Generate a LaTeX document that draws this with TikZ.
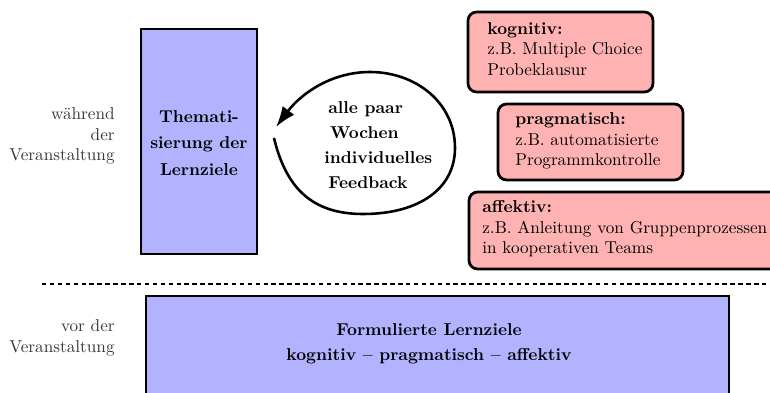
\documentclass[tikz,border=0pt]{standalone}
\usetikzlibrary{arrows.meta,fit}

\tikzset{
  goalbox/.style={draw=black, line width=1.7pt, fill=blue!30, inner sep=0pt},
  formbox/.style={draw=black, line width=1.6pt, fill=red!30, rounded corners=5pt, inner sep=0pt},
  phase/.style={inner sep=0pt, align=right, text=black!78},
  plain/.style={inner sep=0pt, align=left, anchor=west},
  boldtext/.style={inner sep=0pt, font=\bfseries},
  loopline/.style={line width=1.5pt, -{Latex[length=12pt,width=8.5pt]}},
  separator/.style={line width=0.6pt, dash pattern=on 2.6pt off 2pt}
}

\begin{document}
\begin{tikzpicture}[x=0.5814pt, y=-0.5814pt]
  \useasboundingbox (0,0) rectangle (770,392);

  % phase labels on the left
  \node[phase, anchor=east] (during) at (115,136) {während\\der\\Veranstaltung};
  \node[phase, anchor=east] (before) at (115,338) {vor der\\Veranstaltung};

  % topic box during the course
  \node[goalbox, fit={(141,29) (257,254)}] (topic) {};
  \node[boldtext, align=center] (topictext) at (199,143)
    {Themati-\\[3.4pt]sierung der\\[3.4pt]Lernziele};

  % feedback loop
  \coordinate (loopA) at (274,138);
  \coordinate (loopB) at (276,127);
  \draw[loopline] (loopA) .. controls (286,188) and (312,214) .. (363,214)
    .. controls (420,214) and (455,188) .. (455,148)
    .. controls (455,102) and (415,72) .. (370,72)
    .. controls (330,72) and (300,95) .. (loopB);
  \node[boldtext, align=left, anchor=west] (feedback) at (328,145)
    {alle paar\\[2.5pt]\hspace*{1pt}Wochen\\[2.5pt]\hspace*{-2.3pt}individuelles\\[2.5pt]Feedback};

  % feedback forms
  \node[formbox, fit={(468,12) (653,92)}] (kog) {};
  \node[plain] (kogtext) at (487,49)
    {\textbf{kognitiv:}\\z.B. Multiple Choice\\Probeklausur};

  \node[formbox, fit={(498,104) (683,180)}] (prag) {};
  \node[plain] (pragtext) at (515,141)
    {\textbf{pragmatisch:}\\z.B. automatisierte\\Programmkontrolle};

  \node[formbox, fit={(469,192) (792,269)}] (aff) {};
  \node[plain] (afftext) at (482,229)
    {\textbf{affektiv:}\\z.B. Anleitung von Gruppenprozessen\\in kooperativen Teams};

  % separator between the two phases
  \coordinate (sepL) at (42,284);
  \coordinate (sepR) at (775,284);
  \draw[separator] (sepL) -- (sepR);

  % learning goals formulated beforehand
  \node[goalbox, fit={(146,296) (729,430)}] (goals) {};
  \node[boldtext, align=center] (goalstext) at (429,344)
    {Formulierte Lernziele\\[2.5pt]kognitiv -- pragmatisch -- affektiv};
\end{tikzpicture}
\end{document}
